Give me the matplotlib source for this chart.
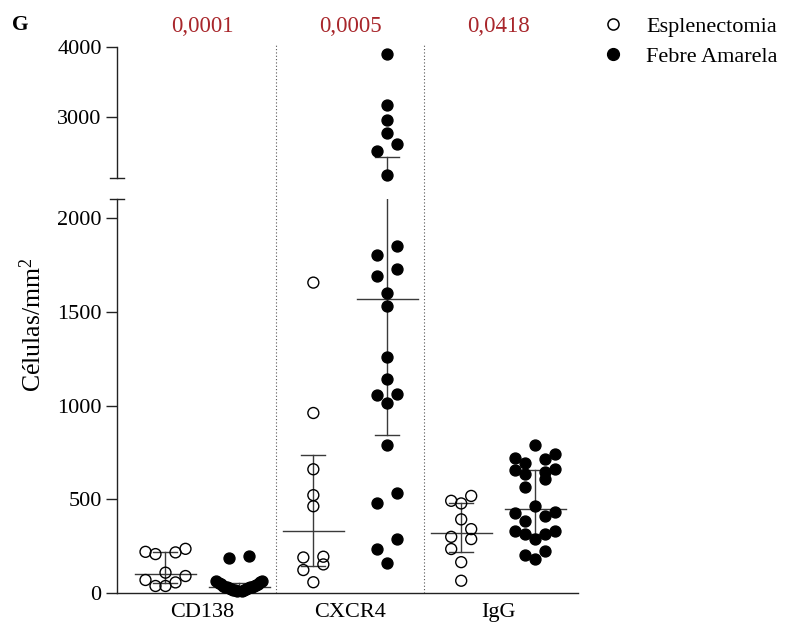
import numpy as np
import matplotlib
matplotlib.use('Agg')
import matplotlib.pyplot as plt
from matplotlib.lines import Line2D
from matplotlib.transforms import blended_transform_factory

plt.rcParams['font.family'] = 'Liberation Serif'
plt.rcParams['mathtext.fontset'] = 'custom'
plt.rcParams['mathtext.rm'] = 'Liberation Serif'
plt.rcParams['mathtext.default'] = 'regular'

marcadores = ['CD138', 'CXCR4', 'IgG']
grupos = ['Esplenectomia', 'Febre Amarela']
valores_p = ['0,0001', '0,0005', '0,0418']

# células/mm2 por marcador e grupo
esp_cd138 = [237, 221, 218, 209, 110, 92, 71, 58, 39, 39]
fa_cd138 = [199, 187, 68, 64, 60, 56, 52, 48, 44, 41, 38, 36, 35, 34, 32, 30,
            27, 24, 22, 20, 18, 16, 14, 12]
esp_cxcr4 = [1656, 961, 661, 523, 464, 195, 191, 154, 124, 59]
fa_cxcr4 = [3896, 3163, 2949, 2771, 2606, 2506, 2167, 1853, 1803, 1727, 1693,
            1599, 1533, 1257, 1144, 1060, 1055, 1016, 789, 537, 479, 287, 234, 160]
esp_igg = [519, 493, 479, 394, 342, 301, 289, 236, 166, 67]
fa_igg = [789, 741, 723, 714, 695, 661, 656, 644, 635, 609, 567, 466, 434, 428,
          411, 386, 331, 331, 314, 314, 289, 225, 204, 181]

dados = [(esp_cd138, fa_cd138), (esp_cxcr4, fa_cxcr4), (esp_igg, fa_igg)]

LIM_BAIXO = 2100   # topo do eixo inferior
LIM_CIMA = 2120    # base do eixo superior (eixo quebrado)

W, H = 788, 630
fig = plt.figure(figsize=(W / 100, H / 100), dpi=100)
ax_b = fig.add_axes([117 / W, (H - 593.3) / H, 461 / W, 394 / H])
ax_t = fig.add_axes([117 / W, (H - 178.3) / H, 461 / W, 131.6 / H])

for ax in (ax_b, ax_t):
    ax.set_xlim(-0.578, 2.54)
    ax.patch.set_visible(False)
    for lado in ('top', 'right'):
        ax.spines[lado].set_visible(False)
    ax.spines['left'].set_color('#222222')
    ax.spines['left'].set_linewidth(1.0)
    ax.tick_params(axis='y', length=8, width=1.0, color='#222222',
                   labelsize=16, pad=3)
ax_b.set_ylim(0, LIM_BAIXO)
ax_t.set_ylim(LIM_CIMA, 4000)
ax_b.set_yticks([0, 500, 1000, 1500, 2000])
ax_t.set_yticks([3000, 4000])
ax_b.spines['bottom'].set_color('#222222')
ax_b.spines['bottom'].set_linewidth(1.0)
ax_t.spines['bottom'].set_visible(False)
ax_t.set_xticks([])
ax_b.set_xticks(range(len(marcadores)))
ax_b.set_xticklabels(marcadores)
ax_b.tick_params(axis='x', length=0, labelsize=16, pad=7)

# marcas da quebra no eixo y
d = 7 / 461
ax_b.plot([-d, d], [1, 1], transform=ax_b.transAxes, color='#222222',
          lw=1.0, clip_on=False)
ax_t.plot([-d, d], [0, 0], transform=ax_t.transAxes, color='#222222',
          lw=1.0, clip_on=False)

px_x = (ax_b.transData.transform([1, 0]) - ax_b.transData.transform([0, 0]))[0]


def altura_px(v):
    v = np.asarray(v, float)
    pts = np.column_stack([np.zeros_like(v), v])
    yb = ax_b.transData.transform(pts)[:, 1]
    yt = ax_t.transData.transform(pts)[:, 1]
    return np.where(v <= LIM_BAIXO, yb, yt)


def espalhar(vals, passo=10.0, meia_larg=23.0, altura_linha=11.0):
    # agrupa os pontos em linhas e abre cada linha do centro para fora
    vals = np.asarray(vals, float)
    ordem = np.argsort(vals, kind='stable')
    alt = altura_px(vals)
    desloc = np.zeros(len(vals))
    linhas, atual = [], [ordem[0]]
    for i in ordem[1:]:
        if alt[i] - alt[atual[0]] < altura_linha:
            atual.append(i)
        else:
            linhas.append(atual)
            atual = [i]
    linhas.append(atual)
    for linha in linhas:
        n = len(linha)
        slots = [s for k in range(1, n // 2 + 1) for s in (-k, k)]
        if n % 2:
            slots = [0] + slots
        maior = max(abs(s) for s in slots) or 1
        p = min(passo, meia_larg / maior)
        for idx, s in zip(linha, slots):
            desloc[idx] = s * p
    return desloc / px_x


cor_barra = '#3a3a3a'
larg_med = 30.5 / px_x
larg_cap = 12 / px_x

for i, par in enumerate(dados):
    for j, vals in enumerate(par):
        vals = np.asarray(vals, float)
        x0 = i + (-0.25 if j == 0 else 0.25)
        med = np.median(vals)
        q1, q3 = np.percentile(vals, [25, 75], method='weibull')
        xs = x0 + espalhar(vals)
        for ax, sel in ((ax_b, vals <= LIM_BAIXO), (ax_t, vals >= LIM_CIMA)):
            ax.plot([x0, x0], [q1, q3], color=cor_barra, lw=1.0, zorder=2)
            ax.plot([x0 - larg_med, x0 + larg_med], [med, med], color=cor_barra,
                    lw=1.0, zorder=2)
            for q in (q1, q3):
                ax.plot([x0 - larg_cap, x0 + larg_cap], [q, q], color=cor_barra,
                        lw=1.0, zorder=2)
            if not sel.any():
                continue
            ax.scatter(xs[sel], vals[sel], s=62,
                       facecolors='black' if j else 'none',
                       edgecolors='black', linewidths=1.0, zorder=3,
                       clip_on=False)

# separadores pontilhados entre marcadores
for x in (0.5, 1.5):
    ax_b.axvline(x, ymin=0, ymax=(593.3 - 43) / 394, color='#555555', lw=0.8,
                 ls=(0, (1, 2)), clip_on=False, zorder=1)

# valores de p acima de cada marcador
tr = blended_transform_factory(ax_t.transData, fig.transFigure)
for i, p in enumerate(valores_p):
    ax_t.text(i, 1 - 26 / H, p, transform=tr, ha='center', va='center',
              fontsize=16.5, color='#a8262b')

fig.text(33 / W, 1 - 325 / H, 'Células/mm$^2$', rotation=90, ha='center',
         va='center', fontsize=18.5)
fig.text(12 / W, 1 - 25 / H, 'G', fontsize=15.5, fontweight='bold',
         ha='left', va='center')

alcas = [Line2D([], [], marker='o', ls='none', mfc='none', mec='black',
                ms=8, mew=1.1),
         Line2D([], [], marker='o', ls='none', mfc='black', mec='black',
                ms=8.5, mew=1.0)]
ax_t.legend(alcas, grupos, loc='upper left', bbox_to_anchor=(602 / W, 1 - 16 / H),
            bbox_transform=fig.transFigure, frameon=False, fontsize=16,
            handlelength=1, handletextpad=1.0, labelspacing=0.45,
            borderpad=0, borderaxespad=0)

fig.savefig('out.png', dpi=100)
